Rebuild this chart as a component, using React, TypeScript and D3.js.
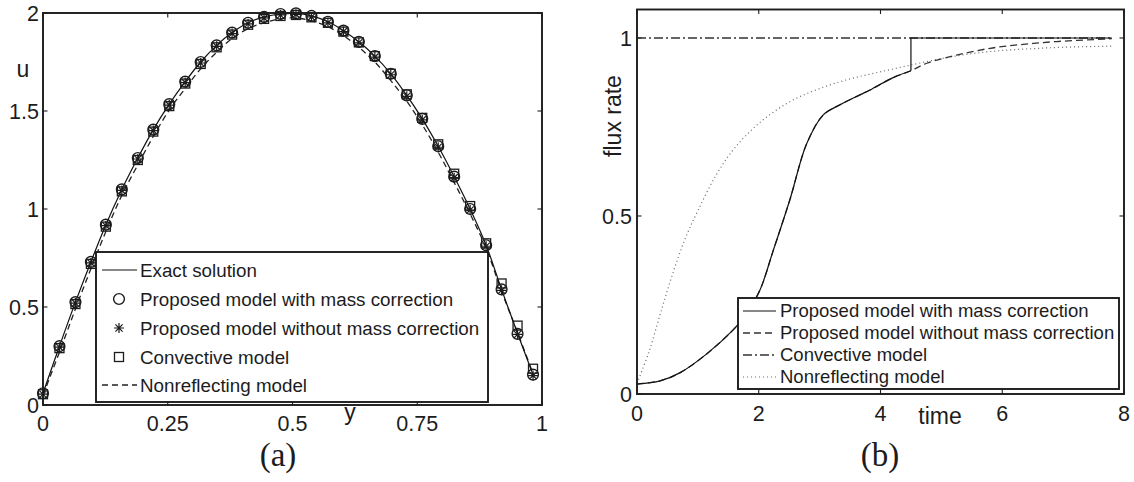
import React from 'react';
import * as d3 from 'd3';

// ---------- Panel (a): velocity profile u(y) ----------
const yNodes = [0.0, 0.033, 0.065, 0.096, 0.126, 0.158, 0.19, 0.221, 0.253, 0.285, 0.316, 0.348, 0.379, 0.411, 0.443, 0.476, 0.507, 0.538, 0.571, 0.602, 0.633, 0.665, 0.697, 0.729, 0.76, 0.792, 0.824, 0.856, 0.888, 0.919, 0.951, 0.982];
const uExact = [0.06, 0.3, 0.525, 0.73, 0.92, 1.1, 1.26, 1.405, 1.535, 1.65, 1.75, 1.835, 1.9, 1.95, 1.98, 1.995, 1.998, 1.985, 1.955, 1.91, 1.853, 1.78, 1.69, 1.58, 1.46, 1.32, 1.165, 1.0, 0.815, 0.59, 0.365, 0.155];
const uWithCorrection = [0.06, 0.3, 0.525, 0.73, 0.92, 1.1, 1.26, 1.405, 1.535, 1.65, 1.75, 1.835, 1.9, 1.95, 1.98, 1.995, 1.998, 1.985, 1.955, 1.91, 1.853, 1.78, 1.69, 1.58, 1.46, 1.32, 1.165, 1.0, 0.815, 0.59, 0.363, 0.155];
const uWithoutCorrection = [0.055, 0.295, 0.52, 0.725, 0.915, 1.095, 1.255, 1.4, 1.53, 1.645, 1.745, 1.83, 1.895, 1.945, 1.975, 1.99, 1.993, 1.98, 1.95, 1.905, 1.848, 1.775, 1.685, 1.575, 1.455, 1.315, 1.16, 0.995, 0.81, 0.585, 0.36, 0.15];
const uConvective = [0.055, 0.29, 0.515, 0.72, 0.91, 1.09, 1.25, 1.395, 1.525, 1.64, 1.74, 1.825, 1.89, 1.94, 1.97, 1.985, 1.99, 1.978, 1.95, 1.905, 1.85, 1.78, 1.69, 1.585, 1.465, 1.33, 1.18, 1.015, 0.825, 0.62, 0.405, 0.185];
const uNonreflecting = [0.05, 0.27, 0.49, 0.695, 0.885, 1.07, 1.225, 1.37, 1.505, 1.615, 1.715, 1.8, 1.87, 1.92, 1.95, 1.97, 1.975, 1.96, 1.93, 1.885, 1.825, 1.75, 1.655, 1.55, 1.43, 1.29, 1.135, 0.975, 0.8, 0.58, 0.37, 0.16];

const aXTicks = [0, 0.25, 0.5, 0.75, 1];
const aXTickLabels = ['0', '0.25', '0.5', '0.75', '1'];
const aYTicks = [0, 0.5, 1, 1.5, 2];
const aYTickLabels = ['0', '0.5', '1', '1.5', '2'];
const aLegend = ['Exact solution', 'Proposed model with mass correction', 'Proposed model without mass correction', 'Convective model', 'Nonreflecting model'];

// ---------- Panel (b): flux rate vs time ----------
const tWithCorrection = [0, 0.38, 0.71, 1.14, 1.58, 1.8, 2.02, 2.24, 2.51, 2.79, 3.06, 3.33, 3.66, 3.83, 4.2, 4.5, 4.5, 7.8];
const fWithCorrection = [0.028, 0.037, 0.06, 0.112, 0.18, 0.225, 0.292, 0.404, 0.545, 0.704, 0.784, 0.812, 0.84, 0.854, 0.888, 0.908, 1.0, 1.0];
const tWithoutCorrection = [0, 0.38, 0.71, 1.14, 1.58, 1.8, 2.02, 2.24, 2.51, 2.79, 3.06, 3.33, 3.66, 3.83, 4.2, 4.5, 4.76, 5.25, 5.8, 6.34, 6.89, 7.71, 7.8];
const fWithoutCorrection = [0.028, 0.037, 0.06, 0.112, 0.18, 0.225, 0.292, 0.404, 0.545, 0.704, 0.784, 0.812, 0.84, 0.854, 0.888, 0.908, 0.929, 0.952, 0.971, 0.982, 0.99, 0.997, 0.998];
const tConvective = [0, 7.8];
const fConvective = [1, 1];
const tNonreflecting = [0, 0.2, 0.4, 0.6, 0.8, 1.0, 1.3, 1.6, 2.0, 2.5, 3.0, 3.5, 4.0, 4.5, 5.0, 5.5, 6.0, 6.5, 7.0, 7.8];
const fNonreflecting = [0.03, 0.12, 0.235, 0.345, 0.44, 0.515, 0.615, 0.69, 0.76, 0.82, 0.858, 0.885, 0.905, 0.924, 0.942, 0.956, 0.965, 0.97, 0.974, 0.977];

const bXTicks = [0, 2, 4, 6, 8];
const bXTickLabels = ['0', '2', '4', '6', '8'];
const bYTicks = [0, 0.5, 1];
const bYTickLabels = ['0', '0.5', '1'];
const bLegend = ['Proposed model with mass correction', 'Proposed model without mass correction', 'Convective model', 'Nonreflecting model'];

const SANS = '"Liberation Sans", Arial, Helvetica, sans-serif';
const SERIF = '"Liberation Serif", "Times New Roman", serif';
const TICK = 4.5;
const TICK_FONT = 21.5;
const LABEL_FONT = 23;
const INK = '#1c1c1c';

type Pt = [number, number];
const zip = (a: number[], b: number[]): Pt[] => a.map((v, i) => [v, b[i]]);

function Circle({ x, y }: { x: number; y: number }) {
  return <circle cx={x} cy={y} r={5.4} fill="none" stroke={INK} strokeWidth={1.4} />;
}
function Star({ x, y }: { x: number; y: number }) {
  const r = 5;
  const d = r * 0.72;
  return (
    <path
      d={`M${x - r},${y}H${x + r}M${x},${y - r}V${y + r}M${x - d},${y - d}L${x + d},${y + d}M${x - d},${y + d}L${x + d},${y - d}`}
      stroke={INK}
      strokeWidth={1.2}
      fill="none"
    />
  );
}
function Square({ x, y }: { x: number; y: number }) {
  const s = 4.5;
  return <rect x={x - s} y={y - s} width={2 * s} height={2 * s} fill="none" stroke={INK} strokeWidth={1.3} />;
}

function Frame({ x0, x1, y0, y1 }: { x0: number; x1: number; y0: number; y1: number }) {
  return <rect x={x0} y={y1} width={x1 - x0} height={y0 - y1} fill="none" stroke={INK} strokeWidth={1.9} />;
}

export default function App() {
  // panel (a) scales
  const xA = d3.scaleLinear().domain([0, 1]).range([43, 542]);
  const yA = d3.scaleLinear().domain([0, 2]).range([405, 13]);
  // panel (b) scales
  const xB = d3.scaleLinear().domain([0, 8]).range([637, 1124]);
  const yB = d3.scaleLinear().domain([0, 1.08]).range([394, 9.5]);

  const lineA = d3
    .line<Pt>()
    .x((d) => xA(d[0]))
    .y((d) => yA(d[1]))
    .curve(d3.curveCatmullRom.alpha(0.5));

  const smoothB = d3
    .line<Pt>()
    .x((d) => xB(d[0]))
    .y((d) => yB(d[1]))
    .curve(d3.curveCatmullRom.alpha(0.5));
  const straightB = d3
    .line<Pt>()
    .x((d) => xB(d[0]))
    .y((d) => yB(d[1]));

  // the corrected model switches at a repeated time value: smooth before it, straight after
  const withPts = zip(tWithCorrection, fWithCorrection);
  const jump = tWithCorrection.findIndex((t, i) => i > 0 && t === tWithCorrection[i - 1]);
  const withSmooth = withPts.slice(0, jump);
  const withStep = withPts.slice(jump - 1);

  const [ax0, ax1] = xA.range();
  const [ay0, ay1] = yA.range();
  const [bx0, bx1] = xB.range();
  const [by0, by1] = yB.range();

  const nodes = yNodes.map((_, i) => i);

  // legend geometry for (a)
  const legA = { x: 96, y: 252, w: 392, h: 150, rowY: [270, 299, 328, 357, 385] };
  // legend geometry for (b)
  const legB = { x: 738, y: 298, w: 381, h: 91, rowY: [311, 333, 355, 377] };

  return (
    <svg width={1134} height={482} style={{ position: 'absolute', left: 0, top: 0, background: '#fff' }}>
      <rect x={0} y={0} width={1134} height={482} fill="#fff" />

      {/* ===== panel (a) ===== */}
      <g>
        {/* ticks on all four sides, pointing inward */}
        {aXTicks.map((t) => (
          <g key={'ax' + t}>
            <line x1={xA(t)} x2={xA(t)} y1={ay0} y2={ay0 - TICK} stroke={INK} strokeWidth={1.1} />
            <line x1={xA(t)} x2={xA(t)} y1={ay1} y2={ay1 + TICK} stroke={INK} strokeWidth={1.1} />
          </g>
        ))}
        {aYTicks.map((t) => (
          <g key={'ay' + t}>
            <line x1={ax0} x2={ax0 + TICK} y1={yA(t)} y2={yA(t)} stroke={INK} strokeWidth={1.1} />
            <line x1={ax1} x2={ax1 - TICK} y1={yA(t)} y2={yA(t)} stroke={INK} strokeWidth={1.1} />
          </g>
        ))}
        {aXTicks.map((t, i) => (
          <text key={'axl' + t} x={xA(t)} y={431} textAnchor="middle" fontFamily={SANS} fontSize={TICK_FONT} fill={INK}>
            {aXTickLabels[i]}
          </text>
        ))}
        {aYTicks.map((t, i) => (
          <text key={'ayl' + t} x={39} y={yA(t)} dy="0.36em" textAnchor="end" fontFamily={SANS} fontSize={TICK_FONT} fill={INK}>
            {aYTickLabels[i]}
          </text>
        ))}
        <text x={23} y={77} textAnchor="middle" fontFamily={SANS} fontSize={LABEL_FONT} fill={INK}>u</text>
        <text x={350} y={420} textAnchor="middle" fontFamily={SANS} fontSize={LABEL_FONT} fill={INK}>y</text>

        {/* curves */}
        <path d={lineA(zip(yNodes, uNonreflecting)) ?? ''} fill="none" stroke="#222" strokeWidth={1.3} strokeDasharray="6,4" />
        <path d={lineA(zip(yNodes, uExact)) ?? ''} fill="none" stroke="#111" strokeWidth={1.2} />
        {nodes.map((i) => (
          <g key={'m' + i}>
            <Square x={xA(yNodes[i])} y={yA(uConvective[i])} />
            <Circle x={xA(yNodes[i])} y={yA(uWithCorrection[i])} />
            <Star x={xA(yNodes[i])} y={yA(uWithoutCorrection[i])} />
          </g>
        ))}

        <Frame x0={ax0} x1={ax1} y0={ay0} y1={ay1} />

        {/* legend */}
        <rect x={legA.x} y={legA.y} width={legA.w} height={legA.h} fill="#fff" stroke={INK} strokeWidth={1.9} />
        <line x1={102} x2={137} y1={legA.rowY[0]} y2={legA.rowY[0]} stroke="#111" strokeWidth={1.2} />
        <Circle x={119} y={legA.rowY[1]} />
        <Star x={119} y={legA.rowY[2]} />
        <Square x={119} y={legA.rowY[3]} />
        <line x1={102} x2={137} y1={legA.rowY[4]} y2={legA.rowY[4]} stroke="#222" strokeWidth={1.3} strokeDasharray="6,4" />
        {aLegend.map((s, i) => (
          <text key={'la' + i} x={140} y={legA.rowY[i]} dy="0.35em" fontFamily={SANS} fontSize={18.8} fill={INK}>
            {s}
          </text>
        ))}

        <text x={278} y={466} textAnchor="middle" fontFamily={SERIF} fontSize={33} fill={INK}>(a)</text>
      </g>

      {/* ===== panel (b) ===== */}
      <g>
        {bXTicks.map((t) => (
          <g key={'bx' + t}>
            <line x1={xB(t)} x2={xB(t)} y1={by0} y2={by0 - TICK} stroke={INK} strokeWidth={1.1} />
            <line x1={xB(t)} x2={xB(t)} y1={by1} y2={by1 + TICK} stroke={INK} strokeWidth={1.1} />
          </g>
        ))}
        {bYTicks.map((t) => (
          <g key={'by' + t}>
            <line x1={bx0} x2={bx0 + TICK} y1={yB(t)} y2={yB(t)} stroke={INK} strokeWidth={1.1} />
            <line x1={bx1} x2={bx1 - TICK} y1={yB(t)} y2={yB(t)} stroke={INK} strokeWidth={1.1} />
          </g>
        ))}
        {bXTicks.map((t, i) => (
          <text key={'bxl' + t} x={xB(t)} y={421} textAnchor="middle" fontFamily={SANS} fontSize={TICK_FONT} fill={INK}>
            {bXTickLabels[i]}
          </text>
        ))}
        {bYTicks.map((t, i) => (
          <text key={'byl' + t} x={632} y={yB(t)} dy="0.36em" textAnchor="end" fontFamily={SANS} fontSize={TICK_FONT} fill={INK}>
            {bYTickLabels[i]}
          </text>
        ))}
        <text
          transform="translate(621,116) rotate(-90)"
          textAnchor="middle"
          fontFamily={SANS}
          fontSize={LABEL_FONT}
          fill={INK}
        >
          flux rate
        </text>
        <text x={940} y={424} textAnchor="middle" fontFamily={SANS} fontSize={LABEL_FONT} fill={INK}>time</text>

        {/* curves */}
        <path d={straightB(zip(tConvective, fConvective)) ?? ''} fill="none" stroke="#333" strokeWidth={1.3} strokeDasharray="9,3,2,3" />
        <path d={smoothB(zip(tNonreflecting, fNonreflecting)) ?? ''} fill="none" stroke="#666" strokeWidth={1.2} strokeDasharray="1,3" />
        <path d={smoothB(zip(tWithoutCorrection, fWithoutCorrection)) ?? ''} fill="none" stroke="#333" strokeWidth={1.3} strokeDasharray="7,4" />
        <path d={smoothB(withSmooth) ?? ''} fill="none" stroke="#111" strokeWidth={1.2} />
        <path d={straightB(withStep) ?? ''} fill="none" stroke="#111" strokeWidth={1.2} />

        <Frame x0={bx0} x1={bx1} y0={by0} y1={by1} />

        {/* legend */}
        <rect x={legB.x} y={legB.y} width={legB.w} height={legB.h} fill="#fff" stroke={INK} strokeWidth={1.9} />
        <line x1={743} x2={776} y1={legB.rowY[0]} y2={legB.rowY[0]} stroke="#111" strokeWidth={1.2} />
        <line x1={743} x2={776} y1={legB.rowY[1]} y2={legB.rowY[1]} stroke="#333" strokeWidth={1.3} strokeDasharray="7,4" />
        <line x1={743} x2={776} y1={legB.rowY[2]} y2={legB.rowY[2]} stroke="#333" strokeWidth={1.3} strokeDasharray="9,3,2,3" />
        <line x1={743} x2={776} y1={legB.rowY[3]} y2={legB.rowY[3]} stroke="#666" strokeWidth={1.2} strokeDasharray="1,3" />
        {bLegend.map((s, i) => (
          <text key={'lb' + i} x={780} y={legB.rowY[i]} dy="0.35em" fontFamily={SANS} fontSize={18.5} fill={INK}>
            {s}
          </text>
        ))}

        <text x={880} y={466} textAnchor="middle" fontFamily={SERIF} fontSize={33} fill={INK}>(b)</text>
      </g>
    </svg>
  );
}
